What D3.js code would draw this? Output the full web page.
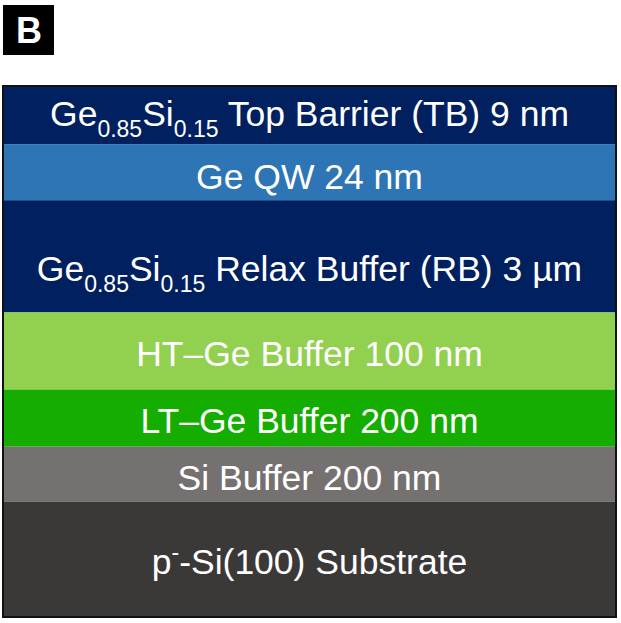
<!DOCTYPE html>
<html>
<head>
<meta charset="utf-8">
<script src="https://cdn.jsdelivr.net/npm/d3@7"></script>
<style>
  body { margin: 0; background: #fff; }
  svg { display: block; font-family: "Liberation Sans", Arial, sans-serif; }
</style>
</head>
<body>
<div id="stack"></div>
<script>
// Layer names, top to bottom
const layers = ["TB", "QW", "RB", "HT", "LT", "SiBuf", "Sub"];

// Label pieces: [text, kind] (0 normal, 1 subscript, 2 superscript)
const labels = [
  [["Ge", 0], ["0.85", 1], ["Si", 0], ["0.15", 1], [" Top Barrier (TB) 9 nm", 0]],
  [["Ge QW 24 nm", 0]],
  [["Ge", 0], ["0.85", 1], ["Si", 0], ["0.15", 1], [" Relax Buffer (RB) 3 µm", 0]],
  [["HT\u2013Ge Buffer 100 nm", 0]],
  [["LT\u2013Ge Buffer 200 nm", 0]],
  [["Si Buffer 200 nm", 0]],
  [["p", 0], ["-", 2], ["-Si(100) Substrate", 0]]
];

// Drawn (not to scale) thickness of each layer, relative units
const drawnThickness = [58, 56, 112, 77, 57, 55, 115];

const fills = ["#002060", "#2e75b6", "#002060", "#92d050", "#14ad00", "#767171", "#3b3838"];

const W = 621, H = 623;
const x0 = 3, x1 = 616, yTop = 86, yBot = 617;

const svg = d3.select("#stack").append("svg").attr("width", W).attr("height", H);

// Panel tag
svg.append("rect").attr("x", 3).attr("y", 5).attr("width", 51).attr("height", 50).attr("fill", "#000");
svg.append("text").attr("x", 29).attr("y", 43).attr("text-anchor", "middle")
  .attr("fill", "#fff").attr("font-weight", "bold").attr("font-size", 36).text("B");

// Cumulative positions
const cum = [0];
drawnThickness.forEach((d, i) => cum.push(cum[i] + d));
const y = d3.scaleLinear().domain([0, d3.sum(drawnThickness)]).range([yTop, yBot]);

const data = layers.map((k, i) => ({
  key: k, y0: cum[i], y1: cum[i + 1], fill: fills[i], label: labels[i]
}));

const g = svg.append("g");

g.selectAll(".layer")
  .data(data)
  .enter()
  .append("rect")
  .attr("class", "layer")
  .attr("x", x0)
  .attr("y", (d) => y(d.y0))
  .attr("width", x1 - x0)
  .attr("height", (d) => y(d.y1) - y(d.y0))
  .attr("fill", (d) => d.fill);

// small nudges for label baselines
const nudge = { TB: -2, RB: 12, QW: 4, HT: 2, LT: 2, SiBuf: 3, Sub: 2 };

const txt = g.selectAll(".label")
  .data(data)
  .enter()
  .append("text")
  .attr("class", "label")
  .attr("x", (x0 + x1) / 2)
  .attr("y", (d) => (y(d.y0) + y(d.y1)) / 2 + 13 + (nudge[d.key] || 0))
  .attr("text-anchor", "middle")
  .attr("fill", "#fff")
  .attr("font-size", 35.5);

txt.each(function (d) {
  const t = d3.select(this);
  let shift = 0;
  d.label.forEach(([s, kind]) => {
    const ts = t.append("tspan").text(s);
    if (kind === 1) {
      ts.attr("font-size", 23).attr("dy", 11 - shift);
      shift = 11;
    } else if (kind === 2) {
      ts.attr("font-size", 23).attr("dy", -14 - shift);
      shift = -14;
    } else {
      if (shift !== 0) ts.attr("dy", -shift);
      shift = 0;
    }
  });
});

// Outer frame
svg.append("rect")
  .attr("x", x0).attr("y", yTop)
  .attr("width", x1 - x0).attr("height", yBot - yTop)
  .attr("fill", "none").attr("stroke", "#111").attr("stroke-width", 2);
</script>
</body>
</html>
